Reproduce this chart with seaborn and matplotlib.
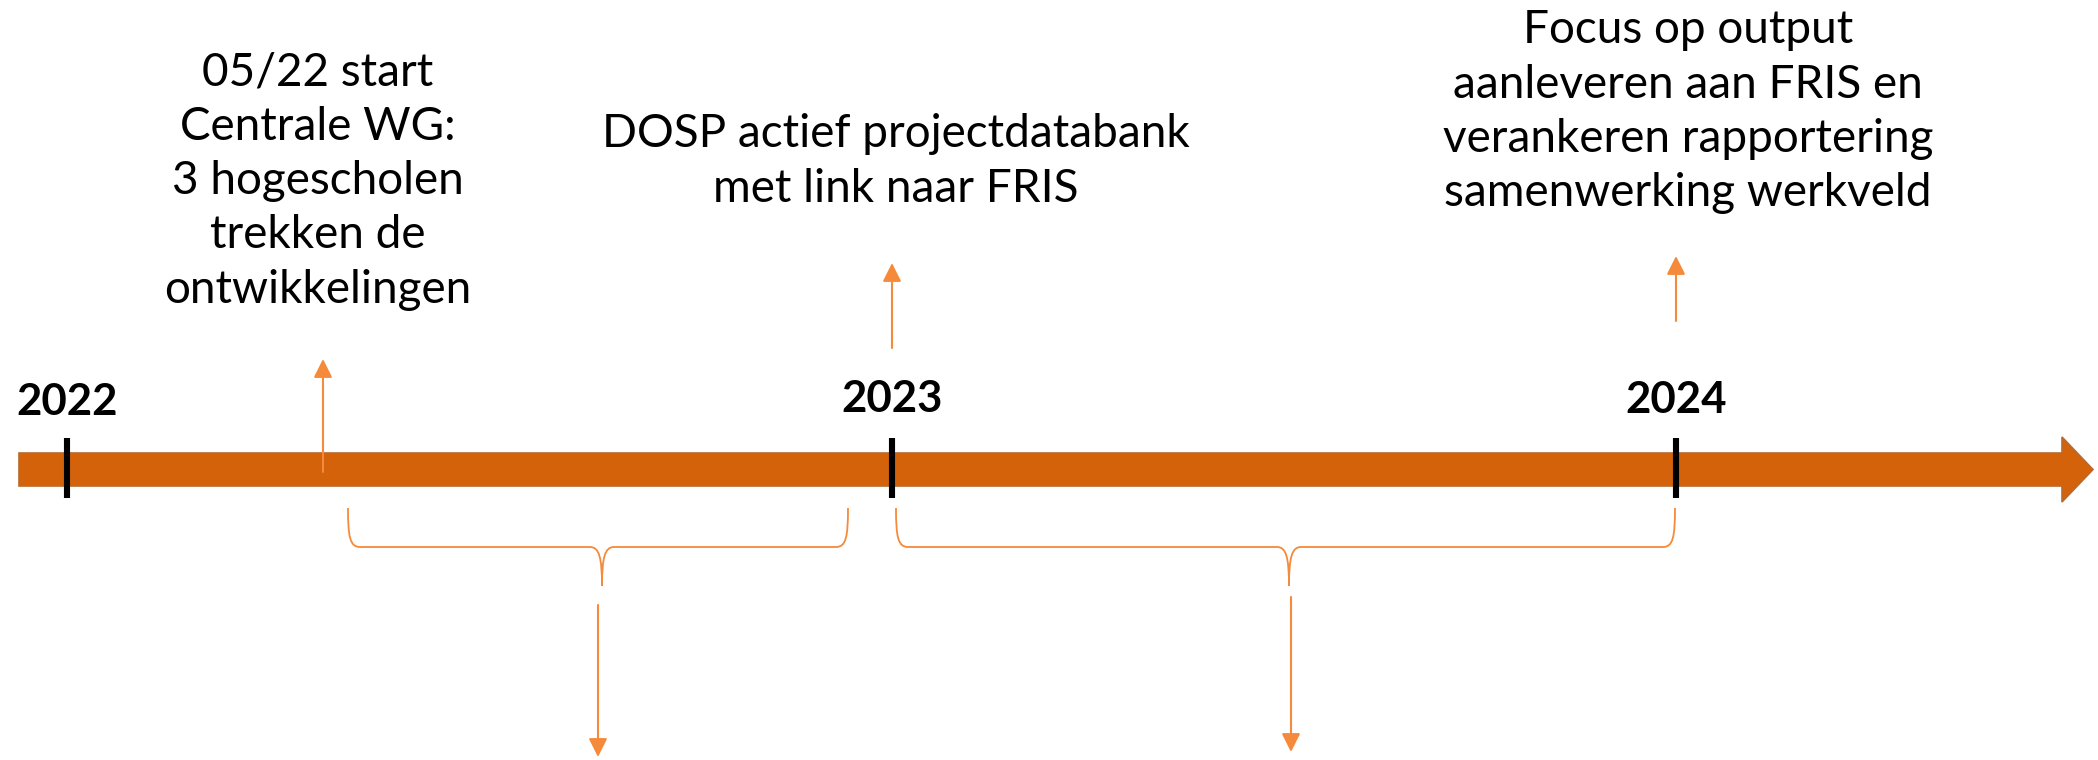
import numpy as np
import matplotlib
matplotlib.use('Agg')
import matplotlib.pyplot as plt
import seaborn as sns
from matplotlib.patches import Polygon, PathPatch
from matplotlib.path import Path

# timeline data (positions in picture pixels, y measured downwards)
years = ['2022', '2023', '2024']
year_x = [67, 892, 1676]
year_baseline = [415, 412, 413]

event_lines = [
    ['05/22 start', 'Centrale WG:', '3 hogescholen', 'trekken de', 'ontwikkelingen'],
    ['DOSP actief projectdatabank', 'met link naar FRIS'],
    ['Focus op output', 'aanleveren aan FRIS en', 'verankeren rapportering', 'samenwerking werkveld'],
]
event_text_x = [318, 896, 1688]
event_first_baseline = [85, 147, 43]
up_arrow_x = [323, 892, 1676]
up_arrow_start = [472, 348, 321]
up_arrow_end = [359, 263, 256]

period_left = [348, 896]
period_right = [848, 1675]
period_cusp_x = [602, 1289]
down_arrow_x = [598, 1291]
down_arrow_start = [605, 597]
down_arrow_end = [757, 752]

sns.set_theme(style='white')
plt.rcParams['font.family'] = ['Lato', 'DejaVu Sans']

fig = plt.figure(figsize=(20.98, 7.6), dpi=100)
ax = fig.add_axes([0, 0, 1, 1])
ax.set_xlim(0, 2098)
ax.set_ylim(760, 0)
ax.axis('off')

bar_col = '#D3620B'
line_col = '#F58A3A'

# main timeline arrow
body_top, body_bot = 453, 486
head_top, head_bot = 437, 502
x0, x_head, x_tip = 19, 2062, 2093
yc = (body_top + body_bot) / 2
arrow_pts = [(x0, body_top), (x_head, body_top), (x_head, head_top), (x_tip, yc),
             (x_head, head_bot), (x_head, body_bot), (x0, body_bot)]
ax.add_patch(Polygon(arrow_pts, closed=True, facecolor=bar_col, edgecolor='#B9692E', lw=1.2, zorder=2))

# year ticks and labels
ax.vlines(year_x, 438, 498, color='black', lw=4.4, zorder=4)
for yr, x, b in zip(years, year_x, year_baseline):
    ax.text(x, b, yr, ha='center', va='baseline', fontsize=31.5, fontweight='bold', color='black')

# events above the timeline
step = 54.5
for lines, x, b in zip(event_lines, event_text_x, event_first_baseline):
    for i, ln in enumerate(lines):
        ax.text(x, b + i * step, ln, ha='center', va='baseline', fontsize=33, color='black')

for x, s, e in zip(up_arrow_x, up_arrow_start, up_arrow_end):
    ax.annotate('', xy=(x, e), xytext=(x, s),
                arrowprops=dict(arrowstyle='-|>', color=line_col, lw=1.5,
                                mutation_scale=28, shrinkA=0, shrinkB=0), zorder=5)

# periods below the timeline (curly braces)
top, mid, cusp = 508, 547, 586
for xl, xr, xm in zip(period_left, period_right, period_cusp_x):
    verts = [(xl, top),
             (xl, mid - 10), (xl + 2, mid), (xl + 12, mid),
             (xm - 12, mid),
             (xm - 3, mid), (xm, mid + 10), (xm, cusp),
             (xm, mid + 10), (xm + 3, mid), (xm + 12, mid),
             (xr - 12, mid),
             (xr - 2, mid), (xr, mid - 10), (xr, top)]
    codes = [Path.MOVETO,
             Path.CURVE4, Path.CURVE4, Path.CURVE4,
             Path.LINETO,
             Path.CURVE4, Path.CURVE4, Path.CURVE4,
             Path.CURVE4, Path.CURVE4, Path.CURVE4,
             Path.LINETO,
             Path.CURVE4, Path.CURVE4, Path.CURVE4]
    ax.add_patch(PathPatch(Path(verts, codes), facecolor='none', edgecolor=line_col, lw=1.3))

for x, s, e in zip(down_arrow_x, down_arrow_start, down_arrow_end):
    ax.annotate('', xy=(x, e), xytext=(x, s),
                arrowprops=dict(arrowstyle='-|>', color=line_col, lw=1.5,
                                mutation_scale=28, shrinkA=0, shrinkB=0))

fig.savefig('out.png', dpi=100, facecolor='white')
